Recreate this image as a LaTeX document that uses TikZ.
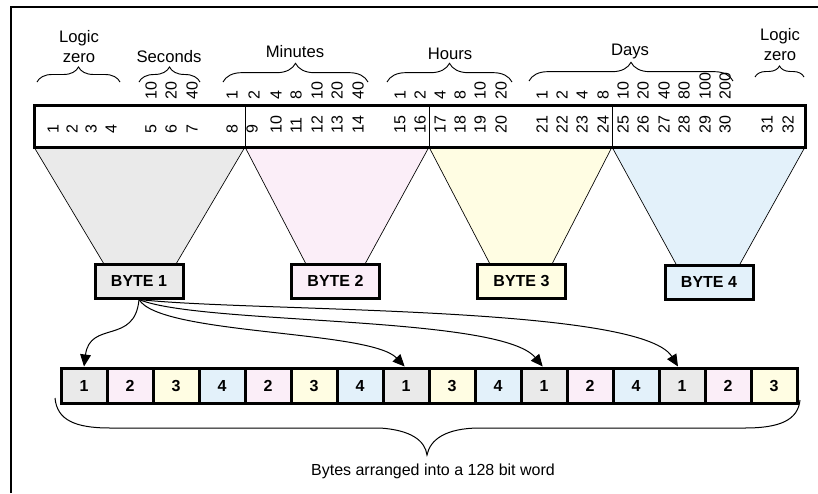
\documentclass[tikz,border=0pt]{standalone}
\usepackage{fontspec}
\setmainfont{Liberation Sans}
\usetikzlibrary{arrows.meta,decorations.pathreplacing}
\definecolor{bgray}{HTML}{EAEAEA}
\definecolor{bpink}{HTML}{FBEEF8}
\definecolor{byel}{HTML}{FFFDE3}
\definecolor{bblue}{HTML}{E3F1FA}
\begin{document}
\begin{tikzpicture}[x=0.75pt,y=-0.75pt,
  bitnum/.style={rotate=90,anchor=west,inner sep=0pt,font=\fontsize{12}{14}\selectfont},
  grplabel/.style={font=\fontsize{12.5}{15}\selectfont,inner sep=0pt,align=center},
  gbrace/.style={decorate,decoration={brace,amplitude=#1},line width=0.7pt},
  bytebox/.style={draw,line width=2.25pt,minimum width=66pt,minimum height=25.5pt,inner sep=0pt,font=\fontsize{12}{14}\selectfont\bfseries},
  cell/.style={draw,line width=2.25pt,minimum width=34.5pt,minimum height=26.25pt,inner sep=0pt,font=\fontsize{12}{14}\selectfont\bfseries},
  trap/.style={draw=black,line width=0.5pt},
  link/.style={line width=0.75pt,-{Triangle[length=9pt,width=8pt]}}]
\useasboundingbox (0,0) rectangle (818,493);
% frame
\draw[line width=1.5pt] (11,493) -- (11,7) -- (818,7);
% trapezoids
\fill[bgray] (34,147) -- (245,147) -- (176,264) -- (104,264) -- cycle;
\fill[bpink] (245,147) -- (429,147) -- (365,264) -- (306,264) -- cycle;
\fill[byel] (429,147) -- (612,147) -- (552,264) -- (490,264) -- cycle;
\fill[bblue] (612,147) -- (805,147) -- (740,264) -- (676,264) -- cycle;
\draw[trap] (34,147) -- (104,264) (245,147) -- (176,264);
\draw[trap] (245,147) -- (306,264) (429,147) -- (365,264);
\draw[trap] (429,147) -- (490,264) (612,147) -- (552,264);
\draw[trap] (612,147) -- (676,264) (805,147) -- (740,264);
% bar
\node[draw,line width=2.25pt,minimum width=578.25pt,minimum height=31.5pt,inner sep=0pt] (bar) at (419.5,126) {};
\draw[line width=0.6pt] (245,105) -- (245,147) (429,105) -- (429,147) (612,105) -- (612,147);
% bit numbers
\foreach \n/\x in {1/53,2/72,3/91,4/111,5/151,6/171,7/192,8/232,9/252,10/276,11/296,12/317,13/337,14/358,15/400,16/420,17/440,18/460,19/480,20/501,21/542,22/562,23/582,24/603,25/623,26/643,27/664,28/684,29/705,30/725,31/767,32/788}
  \node[bitnum] (bit\n) at (\x,134) {\n};
% value labels
\foreach \v/\x/\i in {10/151/s1,20/171/s2,40/192/s3,
  1/232/m1,2/254/m2,4/276/m3,8/296/m4,10/317/m5,20/337/m6,40/358/m7,
  1/400/h1,2/420/h2,4/440/h3,8/460/h4,10/480/h5,20/501/h6,
  1/542/d1,2/562/d2,4/582/d3,8/603/d4,10/623/d5,20/643/d6,40/664/d7,80/684/d8,100/705/d9,200/725/d10}
  \node[bitnum] (val\i) at (\x,100) {\v};
% group braces
\draw[gbrace=11.25pt] (37,82) -- (120,82);
\draw[gbrace=11.25pt] (139,82) -- (200,82);
\draw[gbrace=14pt] (223,82) -- (368,82);
\draw[gbrace=14pt] (387,82) -- (512,82);
\draw[gbrace=14pt] (529,81) -- (733,81);
\draw[gbrace=8.25pt] (755,77) -- (804,77);
% group labels
\node[grplabel] (lzl) at (79,47) {Logic\\zero};
\node[grplabel] (sec) at (169,57) {Seconds};
\node[grplabel] (min) at (295,52) {Minutes};
\node[grplabel] (hrs) at (450,54) {Hours};
\node[grplabel] (days) at (630,51) {Days};
\node[grplabel] (lzr) at (780,45) {Logic\\zero};
% byte boxes
\node[bytebox,fill=bgray] (b1) at (139,281) {BYTE 1};
\node[bytebox,fill=bpink] (b2) at (335.5,281) {BYTE 2};
\node[bytebox,fill=byel] (b3) at (521.5,281) {BYTE 3};
\node[bytebox,fill=bblue] (b4) at (709,282) {BYTE 4};
% word cells
\foreach \k/\v in {1/1,2/2,3/3,4/4,5/2,6/3,7/4,8/1,9/3,10/4,11/1,12/2,13/4,14/1,15/2,16/3}{
  \ifcase\v\or\def\cc{bgray}\or\def\cc{bpink}\or\def\cc{byel}\or\def\cc{bblue}\fi
  \node[cell,fill=\cc] (c\k) at ({84+46*(\k-1)},385.5) {\v};
}
% links
\draw[link] (b1.south) .. controls (135,345) and (90,320) .. (c1.north);
\draw[link] (b1.south) .. controls (160,335) and (370,330) .. ([xshift=-1pt]c8.north);
\draw[link] (b1.south) .. controls (200,325) and (500,315) .. ([xshift=-1pt]c11.north);
\draw[link] (b1.south) .. controls (250,312) and (640,305) .. ([xshift=-3pt]c14.north);
% bottom brace
\draw[line width=0.75pt] (55,398) .. controls (57,420) and (75,428) .. (110,428) -- (380,428)
  .. controls (410,430) and (425,440) .. (427,455)
  .. controls (430,440) and (445,428) .. (480,428) -- (745,428)
  .. controls (780,428) and (798,420) .. (800,400);
\node[font=\fontsize{12}{14}\selectfont,inner sep=0pt] (word) at (433,471) {Bytes arranged into a 128 bit word};
\end{tikzpicture}
\end{document}
